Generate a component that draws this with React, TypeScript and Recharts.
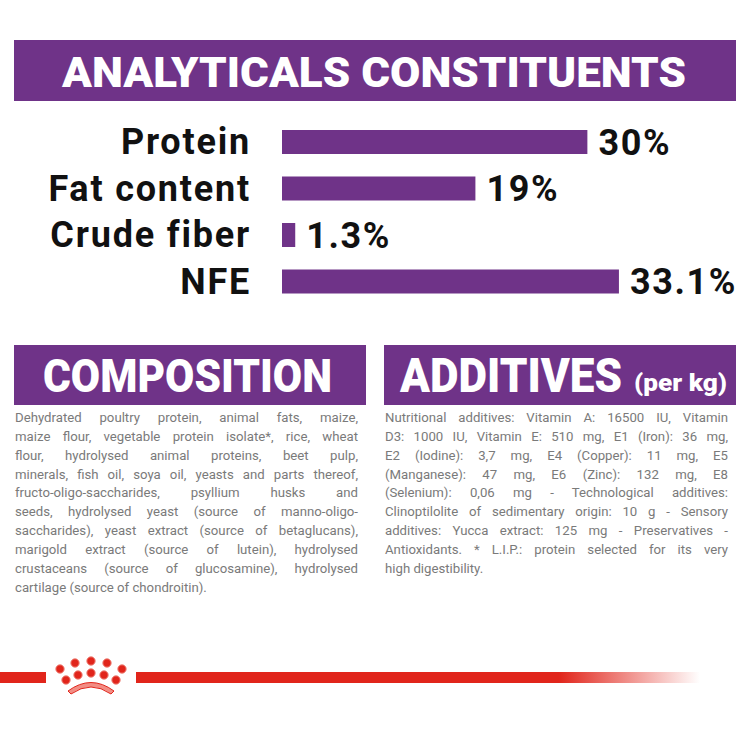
import React from 'react';
import { BarChart, Bar, XAxis, YAxis, LabelList } from 'recharts';

const categories = ['Protein', 'Fat content', 'Crude fiber', 'NFE'];
const values = [30, 19, 1.3, 33.1];
const valueLabels = ['30%', '19%', '1.3%', '33.1%'];

const compositionLines = [
  'Dehydrated poultry protein, animal fats, maize,',
  'maize flour, vegetable protein isolate*, rice, wheat',
  'flour, hydrolysed animal proteins, beet pulp,',
  'minerals, fish oil, soya oil, yeasts and parts thereof,',
  'fructo-oligo-saccharides, psyllium husks and',
  'seeds, hydrolysed yeast (source of manno-oligo-',
  'saccharides), yeast extract (source of betaglucans),',
  'marigold extract (source of lutein), hydrolysed',
  'crustaceans (source of glucosamine), hydrolysed',
  'cartilage (source of chondroitin).',
];

const additiveLines = [
  'Nutritional additives: Vitamin A: 16500 IU, Vitamin',
  'D3: 1000 IU, Vitamin E: 510 mg, E1 (Iron): 36 mg,',
  'E2 (Iodine): 3,7 mg, E4 (Copper): 11 mg, E5',
  '(Manganese): 47 mg, E6 (Zinc): 132 mg, E8',
  '(Selenium): 0,06 mg - Technological additives:',
  'Clinoptilolite of sedimentary origin: 10 g - Sensory',
  'additives: Yucca extract: 125 mg - Preservatives -',
  'Antioxidants. * L.I.P.: protein selected for its very',
  'high digestibility.',
];

const data = categories.map((name, i) => ({ name, value: values[i], label: valueLabels[i] }));

const PURPLE = '#6f3388';
const RED = '#e1251b';
const FONT = 'Roboto, sans-serif';

const crownDots = [
  [60, 29], [75, 23], [91, 21], [107, 23], [122, 29],
  [66, 40], [78, 35], [91, 33], [104, 35], [116, 40],
];

const Banner = ({ x, y, w, h }: { x: number; y: number; w: number; h: number }) => (
  <div style={{ position: 'absolute', left: x, top: y, width: w, height: h, background: PURPLE }} />
);

const Paragraph = ({ lines, x, y }: { lines: string[]; x: number; y: number }) => (
  <div style={{ position: 'absolute', left: x, top: y, width: 343, fontFamily: FONT, fontSize: 13.2, lineHeight: '18.85px', color: '#7a7a7a' }}>
    {lines.map((line, i) => (
      <div key={i} style={{ textAlign: 'justify', textAlignLast: i === lines.length - 1 ? 'left' : 'justify', whiteSpace: 'nowrap' }}>
        {line}
      </div>
    ))}
  </div>
);

export default function App() {
  return (
    <div style={{ position: 'absolute', left: 0, top: 0, width: 736, height: 736, background: '#fff', overflow: 'hidden' }}>
      <Banner x={14} y={40} w={722} h={61} />
      <Banner x={14} y={345} w={352} h={60} />
      <Banner x={384} y={345} w={352} h={60} />

      <svg width={736} height={736} style={{ position: 'absolute', left: 0, top: 0 }}>
        <g fontFamily={FONT} fontWeight={900} fill="#fff">
          <text x={62} y={87} fontSize={42} textLength={624} lengthAdjust="spacingAndGlyphs">ANALYTICALS CONSTITUENTS</text>
          <text x={43} y={392} fontSize={47} textLength={289} lengthAdjust="spacingAndGlyphs">COMPOSITION</text>
          <text x={400} y={392} fontSize={48} textLength={222} lengthAdjust="spacingAndGlyphs">ADDITIVES</text>
          <text x={634} y={391} fontSize={23} textLength={93} lengthAdjust="spacingAndGlyphs">(per kg)</text>
        </g>
      </svg>

      <div style={{ position: 'absolute', left: 0, top: 119 }}>
        <BarChart
          width={736}
          height={186}
          layout="vertical"
          data={data}
          margin={{ top: 0, right: 0, bottom: 0, left: 0 }}
          style={{ overflow: 'visible' }}
        >
          <XAxis type="number" domain={[0, 44.6]} hide />
          <YAxis
            type="category"
            dataKey="name"
            width={282}
            axisLine={false}
            tickLine={false}
            tickMargin={25}
            interval={0}
            tick={{ fontSize: 36, fontWeight: 700, fill: '#111', fontFamily: FONT, letterSpacing: 1.8, dy: -1 }}
          />
          <Bar dataKey="value" fill={PURPLE} barSize={24} isAnimationActive={false}>
            <LabelList
              dataKey="label"
              position="right"
              offset={11}
              style={{ fontSize: 36, fontWeight: 700, fill: '#111', fontFamily: FONT, letterSpacing: 1.6 }}
            />
          </Bar>
        </BarChart>
      </div>

      <Paragraph lines={compositionLines} x={15} y={409} />
      <Paragraph lines={additiveLines} x={385} y={409} />

      <svg width={736} height={736} style={{ position: 'absolute', left: 0, top: 0 }}>
        <defs>
          <linearGradient id="redFade" x1="0" x2="1" y1="0" y2="0">
            <stop offset="0" stopColor={RED} />
            <stop offset="0.75" stopColor={RED} />
            <stop offset="1" stopColor={RED} stopOpacity={0} />
          </linearGradient>
        </defs>
        <rect x={0} y={672} width={46} height={11} fill={RED} />
        <rect x={136} y={672} width={564} height={11} fill="url(#redFade)" />
        <g transform="translate(0,640)">
          {crownDots.map(([cx, cy], i) => (
            <circle key={i} cx={cx} cy={cy} r={4.2} fill={RED} stroke="#f08a80" strokeWidth={1} />
          ))}
          <path d="M68 51 Q91 34 114 51 L111 54 Q91 40 71 54 Z" fill="#f28d84" stroke={RED} strokeWidth={1} />
        </g>
      </svg>
    </div>
  );
}
